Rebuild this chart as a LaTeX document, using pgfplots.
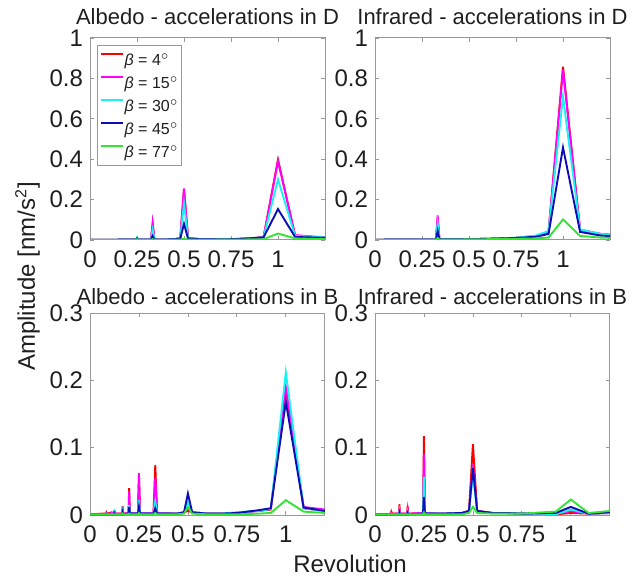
\documentclass[border=0pt]{standalone}
\usepackage{fontspec}
\setmainfont{Liberation Sans}
\usepackage{pgfplots}
\usepackage{pgfplotstable}
\pgfplotsset{compat=1.18}
\definecolor{cR}{rgb}{1,0,0}
\definecolor{cM}{rgb}{1,0,1}
\definecolor{cC}{rgb}{0.1,0.95,0.95}
\definecolor{cB}{rgb}{0.05,0.05,0.72}
\definecolor{cG}{rgb}{0.2,0.9,0.2}
\definecolor{axgray}{gray}{0.6}
\definecolor{txt}{gray}{0.12}

\pgfplotstableread{
x r m c b g
0 0.001 0.001 0.001 0.001 0.001
0.1 0.001 0.001 0.001 0.001 0.001
0.2 0.002 0.002 0.002 0.002 0.001
0.2449 0.002 0.002 0.002 0.002 0.001
0.25 0.004 0.005 0.012 0.008 0.004
0.2553 0.002 0.002 0.002 0.002 0.001
0.3243 0.002 0.002 0.002 0.002 0.001
0.3333 0.08 0.085 0.05 0.02 0.004
0.3429 0.002 0.002 0.002 0.002 0.001
0.4444 0.003 0.003 0.003 0.003 0.001
0.48 0.01 0.01 0.008 0.006 0.002
0.5 0.25 0.255 0.18 0.08 0.006
0.5217 0.01 0.01 0.008 0.006 0.002
0.6 0.003 0.003 0.003 0.003 0.001
0.75 0.003 0.003 0.004 0.004 0.002
0.8571 0.008 0.008 0.008 0.009 0.003
0.9231 0.014 0.014 0.013 0.013 0.004
1 0.398 0.39 0.3 0.153 0.032
1.0909 0.022 0.024 0.02 0.015 0.008
1.2 0.015 0.016 0.015 0.012 0.005
1.3333 0.01 0.01 0.01 0.008 0.004
}\tabA

\pgfplotstableread{
x r m c b g
0 0.001 0.001 0.001 0.001 0.001
0.1 0.002 0.002 0.002 0.002 0.001
0.2 0.002 0.002 0.002 0.002 0.001
0.3 0.002 0.002 0.002 0.002 0.001
0.3243 0.003 0.003 0.003 0.003 0.002
0.3333 0.11 0.122 0.08 0.045 0.01
0.3429 0.003 0.003 0.003 0.003 0.002
0.4 0.003 0.003 0.003 0.003 0.002
0.5 0.004 0.004 0.004 0.004 0.003
0.6 0.006 0.006 0.006 0.006 0.004
0.75 0.01 0.01 0.011 0.01 0.006
0.8571 0.02 0.02 0.022 0.016 0.008
0.9231 0.04 0.04 0.045 0.03 0.012
1 0.858 0.84 0.71 0.458 0.102
1.0909 0.05 0.05 0.052 0.04 0.02
1.2 0.03 0.03 0.03 0.022 0.012
1.3333 0.02 0.02 0.02 0.015 0.008
}\tabB

\pgfplotstableread{
x r m c b g
0 0.001 0.001 0.001 0.001 0.001
0.06 0.002 0.001 0.001 0.001 0.001
0.08 0.002 0.001 0.001 0.001 0.001
0.0833 0.004 0.003 0.002 0.001 0.001
0.087 0.002 0.001 0.001 0.001 0.001
0.1 0.003 0.002 0.001 0.001 0.001
0.1111 0.004 0.003 0.002 0.001 0.001
0.1237 0.002 0.002 0.001 0.001 0.001
0.125 0.007 0.006 0.003 0.002 0.001
0.1263 0.002 0.002 0.001 0.001 0.001
0.1644 0.002 0.002 0.001 0.001 0.001
0.1667 0.013 0.01 0.005 0.004 0.002
0.169 0.002 0.002 0.001 0.001 0.001
0.1967 0.003 0.003 0.002 0.002 0.001
0.2 0.04 0.035 0.015 0.012 0.002
0.2034 0.003 0.003 0.002 0.002 0.001
0.2449 0.003 0.003 0.002 0.002 0.001
0.25 0.06 0.062 0.022 0.012 0.003
0.2553 0.003 0.003 0.002 0.002 0.001
0.3243 0.003 0.003 0.002 0.002 0.001
0.3333 0.074 0.055 0.02 0.01 0.003
0.3429 0.003 0.003 0.002 0.002 0.001
0.4444 0.002 0.002 0.002 0.002 0.001
0.48 0.004 0.004 0.004 0.004 0.002
0.5 0.006 0.01 0.02 0.032 0.012
0.5217 0.004 0.004 0.004 0.004 0.002
0.6 0.002 0.002 0.002 0.002 0.001
0.6667 0.002 0.002 0.002 0.002 0.001
0.75 0.003 0.003 0.004 0.003 0.001
0.8571 0.006 0.006 0.006 0.007 0.002
0.9231 0.008 0.009 0.009 0.01 0.003
1 0.186 0.19 0.212 0.168 0.022
1.0909 0.01 0.012 0.01 0.011 0.005
1.2 0.006 0.008 0.006 0.006 0.003
}\tabC

\pgfplotstableread{
x r m c b g
0 0.001 0.001 0.001 0.001 0.001
0.06 0.001 0.001 0.001 0.001 0.001
0.08 0.002 0.001 0.001 0.001 0.001
0.0833 0.005 0.003 0.002 0.001 0.001
0.087 0.002 0.001 0.001 0.001 0.001
0.1 0.002 0.002 0.001 0.001 0.001
0.1237 0.002 0.002 0.001 0.001 0.001
0.125 0.016 0.01 0.004 0.003 0.001
0.1263 0.002 0.002 0.001 0.001 0.001
0.1644 0.002 0.002 0.001 0.001 0.001
0.1667 0.013 0.008 0.004 0.003 0.001
0.169 0.002 0.002 0.001 0.001 0.001
0.2449 0.003 0.003 0.002 0.002 0.001
0.25 0.117 0.09 0.057 0.027 0.004
0.2553 0.003 0.003 0.002 0.002 0.001
0.3333 0.002 0.002 0.002 0.002 0.001
0.4444 0.003 0.003 0.003 0.003 0.001
0.48 0.006 0.006 0.005 0.006 0.003
0.5 0.105 0.075 0.06 0.07 0.012
0.5217 0.006 0.006 0.005 0.006 0.003
0.6 0.003 0.003 0.003 0.003 0.002
0.6667 0.003 0.003 0.003 0.003 0.002
0.75 0.002 0.002 0.002 0.002 0.002
0.8571 0.002 0.002 0.002 0.003 0.004
0.9231 0.001 0.002 0.001 0.003 0.005
1 0.003 0.006 0.008 0.012 0.023
1.0909 0.002 0.002 0.002 0.002 0.003
1.2 0.003 0.003 0.003 0.004 0.006
}\tabD

\pgfplotsset{
  mystyle/.style={
    scale only axis, width=117.5pt, height=101pt, anchor=south west,
    axis line style={axgray, line width=0.5pt},
    tick style={axgray, line width=0.4pt},
    major tick length=2pt,
    tick align=inside, tick pos=both,
    xmin=0, xtick={0,0.25,0.5,0.75,1},
    ymin=0,
    ticklabel style={font=\fontsize{12}{14}\selectfont, text=txt},
    /pgf/number format/assume math mode=true,
    xticklabel style={yshift=-2pt},
    title style={at={(0.5,1)}, anchor=base, font=\fontsize{11}{13}\selectfont, text=txt, inner sep=0pt},
    every axis plot/.append style={line width=0.95pt},
  },
  topstyle/.style={mystyle, xmax=1.25, ymax=1, ytick={0,0.2,0.4,0.6,0.8,1}, title style={yshift=0.8pt}},
  botstyle/.style={mystyle, xmax=1.2, ymax=0.3, ytick={0,0.1,0.2,0.3}, title style={yshift=-1.5pt}},
}

\newcommand{\fiveplots}[1]{%
  \addplot[cR] table[x=x,y=r]{#1};
  \addplot[cM] table[x=x,y=m]{#1};
  \addplot[cC] table[x=x,y=c]{#1};
  \addplot[cB] table[x=x,y=b]{#1};
  \addplot[cG] table[x=x,y=g]{#1};
}

\begin{document}
\begin{tikzpicture}
\path (0pt,0pt) rectangle (322pt,289.5pt);

\begin{axis}[topstyle, at={(45pt,169.5pt)},
  title={Albedo - accelerations in D},
  legend style={at={(0.03,0.965)}, anchor=north west, draw=axgray, line width=0.5pt,
    font=\fontsize{8}{9}\selectfont, inner sep=1.25pt, row sep=0pt,
    nodes={inner sep=0.5pt, text=txt, text height=8pt, text depth=2.5pt}},
  legend cell align=left,
  legend image code/.code={\draw[#1, line width=0.8pt] (0pt,2.75pt) -- (11pt,2.75pt);},
  ]
\fiveplots{\tabA}
\addlegendentry{{\itshape β} = 4$^{\circ}$}
\addlegendentry{{\itshape β} = 15$^{\circ}$}
\addlegendentry{{\itshape β} = 30$^{\circ}$}
\addlegendentry{{\itshape β} = 45$^{\circ}$}
\addlegendentry{{\itshape β} = 77$^{\circ}$}
\end{axis}

\begin{axis}[topstyle, at={(187.5pt,169.5pt)},
  title={Infrared - accelerations in D}]
\fiveplots{\tabB}
\end{axis}

\begin{axis}[botstyle, at={(45pt,32pt)},
  title={Albedo - accelerations in B}]
\fiveplots{\tabC}
\end{axis}

\begin{axis}[botstyle, at={(187.5pt,32pt)},
  title={Infrared - accelerations in B}]
\fiveplots{\tabD}
\end{axis}

\node[rotate=90, anchor=base, font=\fontsize{12}{14}\selectfont, text=txt] at (17.5pt,151.25pt) {Amplitude [nm/s\textsuperscript{2}]};
\node[anchor=base, font=\fontsize{12}{14}\selectfont, text=txt] at (175pt,3pt) {Revolution};
\end{tikzpicture}
\end{document}
